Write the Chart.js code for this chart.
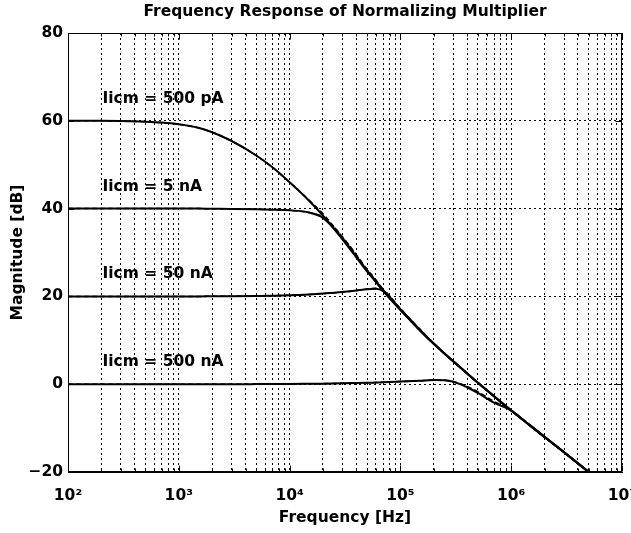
<!DOCTYPE html>
<html>
<head>
<meta charset="utf-8">
<title>Frequency Response of Normalizing Multiplier</title>
<script src="https://cdn.jsdelivr.net/npm/chart.js@4.4.0/dist/chart.umd.min.js"></script>
<style>
    body { margin: 0; background: #fff; }
    #cnvResponse { display: block; }
</style>
</head>
<body>
<canvas id="cnvResponse" width="631" height="533"></canvas>
<script>
/**
 * DATA
 */
const frequencies = [100, 200, 300, 500, 700, 1e3, 1.5e3, 2e3, 3e3, 5e3, 7e3, 1e4, 1.5e4, 2e4, 3e4, 4e4, 5e4, 6e4, 7e4,
    1e5, 1.5e5, 2e5, 2.5e5, 3e5, 4e5, 5e5, 7e5, 1e6, 1.5e6, 2e6, 3e6, 5e6, 6e6];

// solid curves
const mag500pA = [60, 60, 59.95, 59.8, 59.6, 59.2, 58.4, 57.4, 55.4, 52.1, 49.4, 46.0, 41.8, 38.4, 33.0, 28.9, 25.7, 23.3, 21.2,
    16.9, 12.3, 9.2, 7.0, 5.2, 2.45, 0.35, -2.75, -6.0, -9.5, -12.0, -15.5, -20.0, -21.6];
const mag5nA = [40, 40, 40, 40, 40, 40, 40, 39.97, 39.93, 39.85, 39.75, 39.6, 39.1, 37.9, 33.2, 29.1, 25.8, 23.4, 21.3,
    17.0, 12.3, 9.2, 7.0, 5.2, 2.45, 0.35, -2.75, -6.0, -9.5, -12.0, -15.5, -20.0, -21.6];
const mag50nA = [20, 20, 20, 20, 20, 20, 20, 20.02, 20.05, 20.1, 20.15, 20.25, 20.45, 20.65, 21.0, 21.35, 21.65, 21.75, 21.2,
    17.0, 12.3, 9.2, 7.0, 5.2, 2.45, 0.35, -2.75, -6.0, -9.5, -12.0, -15.5, -20.0, -21.6];
const mag500nA = [0, 0, 0, 0, 0, 0, 0, 0, 0, 0.02, 0.04, 0.06, 0.1, 0.13, 0.2, 0.26, 0.32, 0.38, 0.43,
    0.6, 0.8, 0.95, 0.9, 0.55, -0.7, -2.0, -4.2, -6.0, -9.6, -12.1, -15.5, -20.0, -21.6];

// dashed curves (almost on top of the solid ones)
const sim500pA = [60, 60, 59.95, 59.8, 59.6, 59.2, 58.4, 57.4, 55.4, 52.1, 49.4, 46.0, 41.9, 38.8, 33.5, 29.4, 26.1, 23.7, 21.5,
    17.2, 12.5, 9.3, 7.0, 5.2, 2.45, 0.35, -2.75, -6.0, -9.5, -12.0, -15.5, -20.0, -21.6];
const sim5nA = [40, 40, 40, 40, 40, 40, 40, 39.97, 39.93, 39.85, 39.75, 39.6, 39.1, 38.1, 33.6, 29.5, 26.2, 23.8, 21.6,
    17.2, 12.5, 9.3, 7.0, 5.2, 2.45, 0.35, -2.75, -6.0, -9.5, -12.0, -15.5, -20.0, -21.6];
const sim50nA = [20, 20, 20, 20, 20, 20, 20, 20.02, 20.05, 20.1, 20.15, 20.25, 20.45, 20.65, 21.0, 21.35, 21.7, 21.85, 21.5,
    17.2, 12.5, 9.3, 7.0, 5.2, 2.45, 0.35, -2.75, -6.0, -9.5, -12.0, -15.5, -20.0, -21.6];
const sim500nA = [0, 0, 0, 0, 0, 0, 0, 0, 0, 0.02, 0.04, 0.06, 0.1, 0.13, 0.2, 0.26, 0.32, 0.38, 0.43,
    0.6, 0.8, 0.95, 0.9, 0.6, -0.5, -1.7, -3.9, -5.9, -9.5, -12.0, -15.5, -20.0, -21.6];

const curveLabels = ['Iicm = 500 pA', 'Iicm = 5 nA', 'Iicm = 50 nA', 'Iicm = 500 nA'];
const labelFreq = 205;
const labelDb = [65, 45, 25, 5];

const xDecades = [1e2, 1e3, 1e4, 1e5, 1e6, 1e7];
const xTickLabels = ['10²', '10³', '10⁴', '10⁵', '10⁶', '10⁷'];
const yTicks = [-20, 0, 20, 40, 60, 80];
const yTickLabels = ['\u221220', '0', '20', '40', '60', '80'];

/**
 * FUNCTIONS
 */

/**
 * pairs the frequency list with one magnitude list
 */
function ToPoints(values) {
    return frequencies.map((f, i) => ({ x: f, y: values[i] }));
}

/**
 * 1..9 times every decade, for the log grid
 */
function BuildLogGrid() {
    let grid = [];
    for (let i = 0; i < xDecades.length - 1; i++) {
        for (let m = 1; m < 10; m++) {
            grid.push(xDecades[i] * m);
        }
    }
    grid.push(xDecades[xDecades.length - 1]);
    return grid;
}

function LabelForDecade(value) {
    let index = xDecades.indexOf(value);
    return index >= 0 ? xTickLabels[index] : '';
}

function LabelForDb(value) {
    let index = yTicks.indexOf(value);
    return index >= 0 ? yTickLabels[index] : '';
}

function SolidSet(values) {
    return {
        data: ToPoints(values),
        borderColor: '#000',
        borderWidth: 2,
        pointRadius: 0,
        cubicInterpolationMode: 'monotone'
    };
}

function DashedSet(values) {
    return {
        data: ToPoints(values),
        borderColor: '#000',
        borderWidth: 1.5,
        borderDash: [5, 3],
        pointRadius: 0,
        cubicInterpolationMode: 'monotone'
    };
}

/**
 * box round the plot plus the little inward ticks
 */
const frameAndTicks = {
    id: 'frameAndTicks',
    afterDraw(chart) {
        const ctx = chart.ctx;
        const a = chart.chartArea;
        const x = chart.scales.x;
        const y = chart.scales.y;
        const left = Math.round(a.left) + 0.5;
        const right = Math.round(a.right) - 0.5;
        const top = Math.round(a.top) + 0.5;
        const bottom = Math.round(a.bottom) - 0.5;

        ctx.save();
        ctx.strokeStyle = '#000';
        ctx.lineWidth = 1;
        ctx.setLineDash([]);
        ctx.strokeRect(left, top, right - left, bottom - top);

        ctx.beginPath();
        BuildLogGrid().forEach(v => {
            let px = Math.round(x.getPixelForValue(v)) + 0.5;
            let len = xDecades.includes(v) ? 6 : 3;
            ctx.moveTo(px, top);
            ctx.lineTo(px, top + len);
            ctx.moveTo(px, bottom);
            ctx.lineTo(px, bottom - len);
        });
        yTicks.forEach(v => {
            let py = Math.round(y.getPixelForValue(v)) + 0.5;
            ctx.moveTo(left, py);
            ctx.lineTo(left + 6, py);
            ctx.moveTo(right, py);
            ctx.lineTo(right - 6, py);
        });
        ctx.stroke();
        ctx.restore();
    }
};

/**
 * "Iicm = ..." text next to each curve
 */
const curveText = {
    id: 'curveText',
    afterDatasetsDraw(chart) {
        const ctx = chart.ctx;
        ctx.save();
        ctx.fillStyle = '#000';
        ctx.font = "bold 15.5px 'DejaVu Sans', sans-serif";
        ctx.textAlign = 'left';
        ctx.textBaseline = 'middle';
        curveLabels.forEach((text, i) => {
            ctx.fillText(text, chart.scales.x.getPixelForValue(labelFreq), chart.scales.y.getPixelForValue(labelDb[i]));
        });
        ctx.restore();
    }
};

function PaintChart() {
    Chart.defaults.font.family = "'DejaVu Sans', sans-serif";
    Chart.defaults.font.size = 15.5;
    Chart.defaults.font.weight = 'bold';
    Chart.defaults.color = '#000';

    const gridStyle = { color: '#000', lineWidth: 1, drawTicks: false };
    const borderStyle = { display: true, color: '#000', width: 1, dash: [2, 3] };

    let canvas = document.querySelector('#cnvResponse');
    new Chart(canvas, {
        type: 'line',
        data: {
            datasets: [
                SolidSet(mag500pA), DashedSet(sim500pA),
                SolidSet(mag5nA), DashedSet(sim5nA),
                SolidSet(mag50nA), DashedSet(sim50nA),
                SolidSet(mag500nA), DashedSet(sim500nA)
            ]
        },
        options: {
            responsive: false,
            animation: false,
            devicePixelRatio: 1,
            layout: { padding: { left: 0, right: 9, top: 0, bottom: 0 } },
            plugins: {
                legend: { display: false },
                tooltip: { enabled: false },
                title: {
                    display: true,
                    fullSize: false,
                    text: 'Frequency Response of Normalizing Multiplier',
                    color: '#000',
                    font: { size: 15.5, weight: 'bold' },
                    padding: { top: 3, bottom: 11.4 }
                }
            },
            scales: {
                x: {
                    type: 'logarithmic',
                    min: 100,
                    max: 1e7,
                    afterBuildTicks: s => { s.ticks = BuildLogGrid().map(v => ({ value: v })); },
                    ticks: {
                        autoSkip: false,
                        maxRotation: 0,
                        minRotation: 0,
                        padding: 15,
                        callback: v => LabelForDecade(v)
                    },
                    grid: gridStyle,
                    border: borderStyle,
                    title: { display: true, text: 'Frequency [Hz]', padding: { top: 0, bottom: 6 } },
                    afterFit: s => { s.height = 61; s.paddingLeft = 0; s.paddingRight = 0; }
                },
                y: {
                    min: -20,
                    max: 80,
                    afterBuildTicks: s => { s.ticks = yTicks.map(v => ({ value: v })); },
                    ticks: { padding: 5, callback: v => LabelForDb(v) },
                    grid: gridStyle,
                    border: borderStyle,
                    title: { display: true, text: 'Magnitude [dB]', padding: { top: 9, bottom: 0 } },
                    afterFit: s => { s.width = 68; s.paddingTop = 0; s.paddingBottom = 0; }
                }
            }
        },
        plugins: [curveText, frameAndTicks]
    });
}

PaintChart();
</script>
</body>
</html>
